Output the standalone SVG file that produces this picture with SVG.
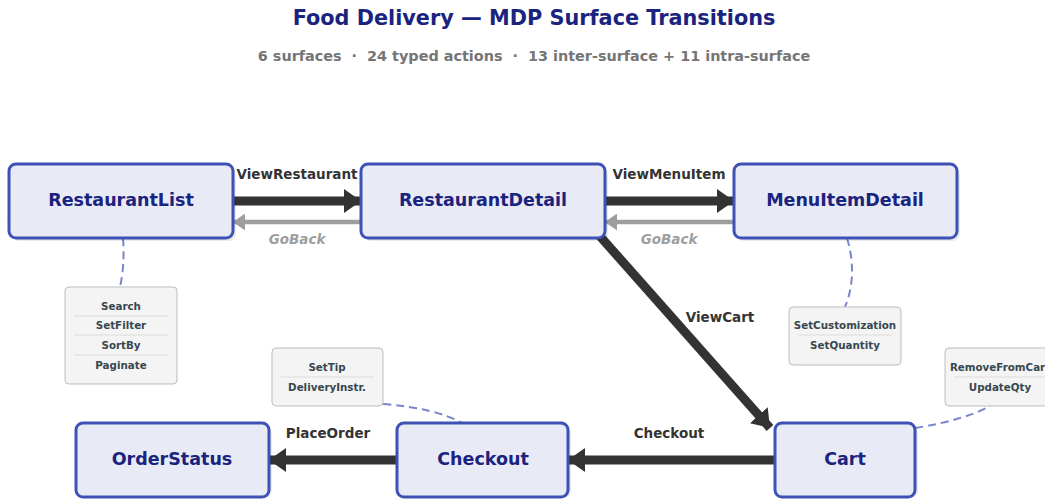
<svg xmlns="http://www.w3.org/2000/svg" width="1045" height="500" viewBox="0 0 1045 500">
<defs>
<style>
.node rect.box{fill:#e8eaf6;stroke:#3f51b5;stroke-width:3}
.node rect.sh{fill:#000;opacity:0.08}
.node text{font-family:"DejaVu Sans",sans-serif;font-weight:bold;font-size:17.5px;fill:#1a237e;text-anchor:middle;dominant-baseline:central}
.main{stroke:#333;stroke-width:9;fill:none}
.back{stroke:#9e9e9e;stroke-width:4.5;fill:none}
.lbl{font-family:"DejaVu Sans",sans-serif;font-weight:bold;font-size:13.5px;fill:#333;text-anchor:middle}
.glbl{font-family:"DejaVu Sans",sans-serif;font-weight:bold;font-style:italic;font-size:13.5px;fill:#9e9e9e;text-anchor:middle}
.intra{stroke:#7986cb;stroke-width:2;stroke-dasharray:8,5;fill:none}
.ibox rect{fill:#f4f4f4;stroke:#bdbdbd;stroke-width:1}
.ibox line{stroke:#dcdcdc;stroke-width:1}
.ibox text{font-family:"DejaVu Sans",sans-serif;font-weight:bold;font-size:10.3px;fill:#37474f;text-anchor:middle}
</style>
<marker id="ah" markerUnits="userSpaceOnUse" markerWidth="17" markerHeight="24" refX="17" refY="12" orient="auto"><path d="M0,0 L17,12 L0,24 Z" fill="#333"/></marker>
<marker id="ahg" markerUnits="userSpaceOnUse" markerWidth="12" markerHeight="17" refX="12" refY="8.5" orient="auto"><path d="M0,0 L12,8.5 L0,17 Z" fill="#9e9e9e"/></marker>
</defs>
<rect width="1045" height="500" fill="#fff"/>
<text x="534" y="25" font-family="DejaVu Sans,sans-serif" font-weight="bold" font-size="20.8" fill="#1a237e" text-anchor="middle">Food Delivery — MDP Surface Transitions</text>
<text x="534" y="61" font-family="DejaVu Sans,sans-serif" font-weight="bold" font-size="14.4" fill="#757575" text-anchor="middle" xml:space="preserve">6 surfaces  ·  24 typed actions  ·  13 inter-surface + 11 intra-surface</text>

<g id="connectors">
<line class="main" x1="233" y1="201" x2="361" y2="201" marker-end="url(#ah)"/>
<line class="back" x1="361" y1="222" x2="233" y2="222" marker-end="url(#ahg)"/>
<line class="main" x1="605" y1="201" x2="734" y2="201" marker-end="url(#ah)"/>
<line class="back" x1="734" y1="222" x2="605" y2="222" marker-end="url(#ahg)"/>
<line class="main" x1="598" y1="234" x2="770" y2="428" marker-end="url(#ah)"/>
<line class="main" x1="775" y1="460" x2="568" y2="460" marker-end="url(#ah)"/>
<line class="main" x1="397" y1="460" x2="269" y2="460" marker-end="url(#ah)"/>
<text class="lbl" x="297" y="179">ViewRestaurant</text>
<text class="glbl" x="297" y="244">GoBack</text>
<text class="lbl" x="669" y="179">ViewMenuItem</text>
<text class="glbl" x="669" y="244">GoBack</text>
<text class="lbl" x="720" y="322">ViewCart</text>
<text class="lbl" x="669" y="438">Checkout</text>
<text class="lbl" x="328" y="438">PlaceOrder</text>
<path class="intra" d="M123,238 Q125,265 120,287"/>
<path class="intra" d="M847,238 Q858,275 845,307"/>
<path class="intra" d="M383,404 Q435,408 462,423"/>
<path class="intra" d="M915,428 Q965,420 990,406"/>
</g>

<g id="RestaurantList" class="node"><rect class="sh" x="12" y="167" width="224" height="74" rx="7"/><rect class="box" x="9" y="164" width="224" height="74" rx="7"/><text x="121" y="200">RestaurantList</text></g>
<g id="RestaurantDetail" class="node"><rect class="sh" x="364" y="167" width="244" height="74" rx="7"/><rect class="box" x="361" y="164" width="244" height="74" rx="7"/><text x="483" y="200">RestaurantDetail</text></g>
<g id="MenuItemDetail" class="node"><rect class="sh" x="737" y="167" width="223" height="74" rx="7"/><rect class="box" x="734" y="164" width="223" height="74" rx="7"/><text x="845" y="200">MenuItemDetail</text></g>
<g id="OrderStatus" class="node"><rect class="sh" x="79" y="426" width="193" height="72" rx="7"/><rect class="box" x="76" y="423" width="193" height="74" rx="7"/><text x="172" y="459">OrderStatus</text></g>
<g id="Checkout" class="node"><rect class="sh" x="400" y="426" width="171" height="72" rx="7"/><rect class="box" x="397" y="423" width="171" height="74" rx="7"/><text x="483" y="459">Checkout</text></g>
<g id="Cart" class="node"><rect class="sh" x="778" y="426" width="140" height="72" rx="7"/><rect class="box" x="775" y="423" width="140" height="74" rx="7"/><text x="845" y="459">Cart</text></g>

<g id="intra-RestaurantList" class="ibox"><rect x="65" y="287" width="112" height="97" rx="4"/>
<text x="121" y="310">Search</text><line x1="74" y1="316" x2="168" y2="316"/>
<text x="121" y="329">SetFilter</text><line x1="74" y1="335" x2="168" y2="335"/>
<text x="121" y="349">SortBy</text><line x1="74" y1="355" x2="168" y2="355"/>
<text x="121" y="369">Paginate</text></g>
<g id="intra-Checkout" class="ibox"><rect x="272" y="348" width="111" height="58" rx="4"/>
<text x="327" y="371">SetTip</text><line x1="281" y1="377" x2="374" y2="377"/>
<text x="327" y="391">DeliveryInstr.</text></g>
<g id="intra-MenuItemDetail" class="ibox"><rect x="789" y="307" width="112" height="58" rx="4"/>
<text x="845" y="329">SetCustomization</text><line x1="798" y1="335" x2="892" y2="335"/>
<text x="845" y="349">SetQuantity</text></g>
<g id="intra-Cart" class="ibox"><rect x="945" y="348" width="110" height="58" rx="4"/>
<text x="1000" y="371">RemoveFromCart</text><line x1="954" y1="377" x2="1046" y2="377"/>
<text x="1000" y="391">UpdateQty</text></g>
</svg>
